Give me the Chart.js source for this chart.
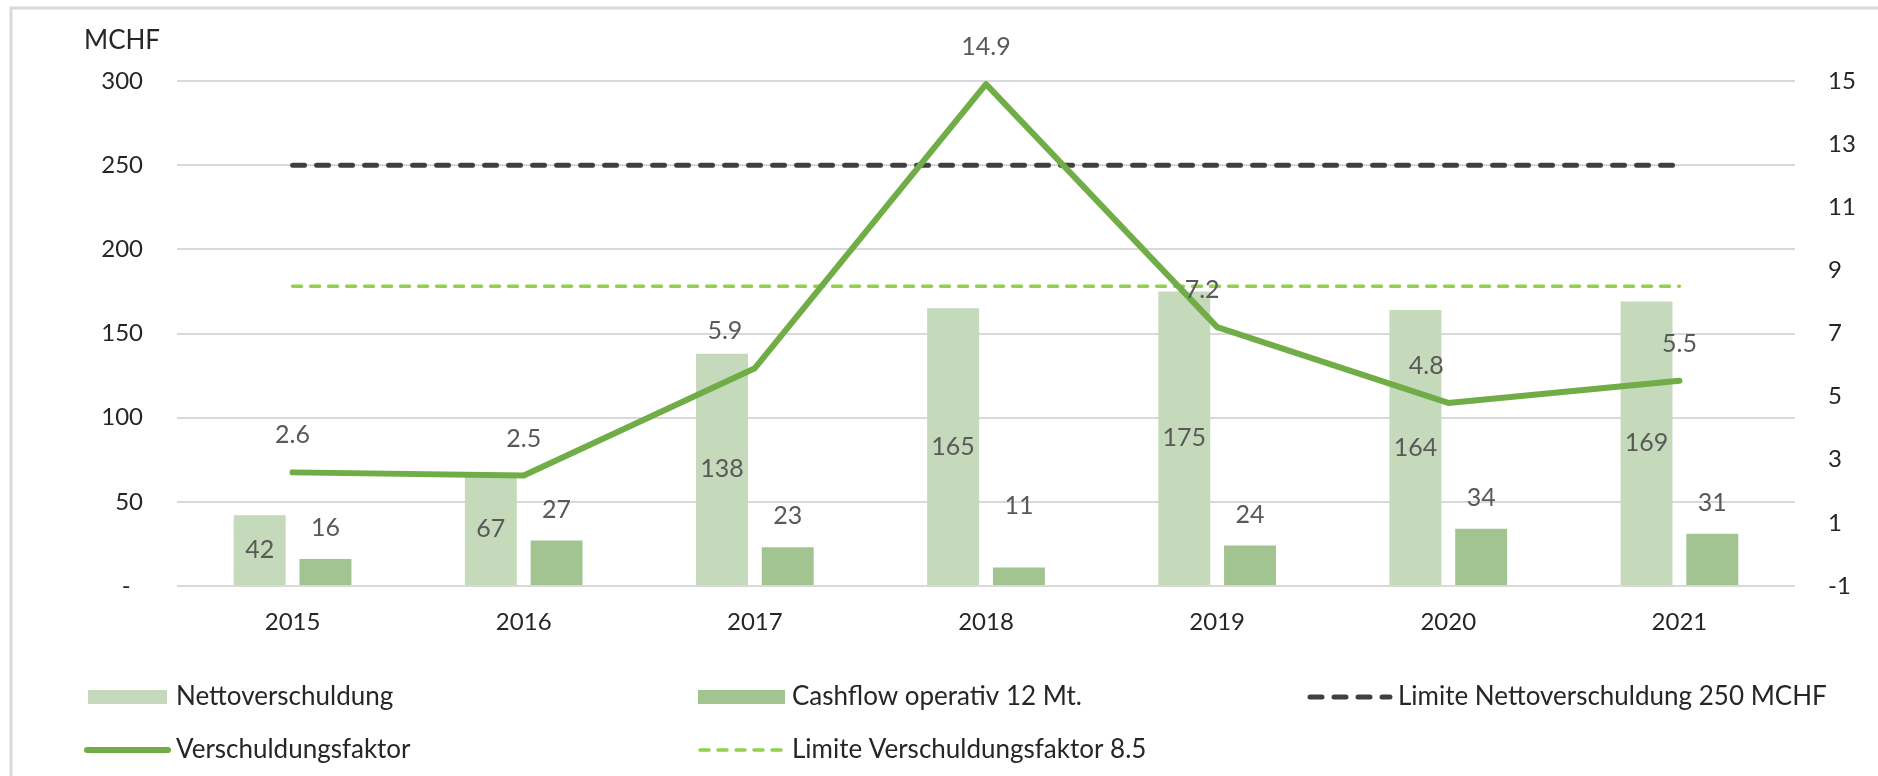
<!DOCTYPE html>
<html>
<head>
<meta charset="utf-8">
<script src="https://cdn.jsdelivr.net/npm/chart.js@4.4.0/dist/chart.umd.min.js"></script>
<style>
  html, body { margin: 0; padding: 0; background: #ffffff; overflow: hidden; }
  #wrap { position: relative; width: 1878px; height: 776px; }
  canvas { display: block; }
</style>
</head>
<body>
<div id="wrap"><canvas id="c" width="1878" height="776"></canvas></div>
<script>
// ---------- data ----------
const years = ['2015', '2016', '2017', '2018', '2019', '2020', '2021'];
const nettoverschuldung = [42, 67, 138, 165, 175, 164, 169];
const cashflowOperativ = [16, 27, 23, 11, 24, 34, 31];
const verschuldungsfaktor = [2.6, 2.5, 5.9, 14.9, 7.2, 4.8, 5.5];
const limiteNettoverschuldung = [250, 250, 250, 250, 250, 250, 250];
const limiteVerschuldungsfaktor = [8.5, 8.5, 8.5, 8.5, 8.5, 8.5, 8.5];
const leftAxisTicks = [0, 50, 100, 150, 200, 250, 300];
const rightAxisTicks = [-1, 1, 3, 5, 7, 9, 11, 13, 15];
const unitLabel = 'MCHF';
const seriesNames = ['Nettoverschuldung', 'Cashflow operativ 12 Mt.', 'Limite Nettoverschuldung 250 MCHF',
                     'Verschuldungsfaktor', 'Limite Verschuldungsfaktor 8.5'];

// ---------- styles ----------
const FONT = 'Lato, "Open Sans", sans-serif';
const FS = 24;
const FS_LABEL = 25;
const FS_LEGEND = 26;
const TEXT = '#262626';
const LABEL = '#595959';
const C_NETTO = '#c5d9bb';
const C_CASH = '#a2c490';
const C_LINE = '#70ad47';
const C_LIM1 = '#404040';
const C_LIM2 = '#92d050';

const frame = {
  id: 'frame',
  beforeDraw(chart) {
    const ctx = chart.ctx;
    ctx.save();
    ctx.fillStyle = '#ffffff';
    ctx.fillRect(0, 0, chart.width, chart.height);
    ctx.strokeStyle = '#d9d9d9';
    ctx.lineWidth = 3;
    ctx.beginPath();
    ctx.moveTo(11, chart.height);
    ctx.lineTo(11, 8);
    ctx.lineTo(chart.width, 8);
    ctx.stroke();
    ctx.restore();
  },
  afterDraw(chart) {
    const ctx = chart.ctx;
    ctx.save();
    ctx.font = FS_LEGEND + 'px ' + FONT;
    ctx.fillStyle = TEXT;
    ctx.textAlign = 'left';
    ctx.textBaseline = 'alphabetic';
    ctx.fillText(unitLabel, 84, 49);
    ctx.restore();
  }
};

const valueLabels = {
  id: 'valueLabels',
  afterDatasetsDraw(chart) {
    const ctx = chart.ctx;
    chart.data.datasets.forEach((ds, di) => {
      const cfg = ds.valueLabel;
      if (!cfg) return;
      const meta = chart.getDatasetMeta(di);
      ctx.save();
      ctx.font = FS_LABEL + 'px ' + FONT;
      ctx.fillStyle = LABEL;
      ctx.textAlign = 'center';
      ctx.textBaseline = 'middle';
      meta.data.forEach((el, i) => {
        const v = ds.data[i];
        let y;
        if (cfg.pos === 'center') y = (el.y + el.base) / 2;
        else y = el.y - (cfg.offset ? cfg.offset(i) : 0);
        const x = el.x + (cfg.dx ? cfg.dx(i) : 0);
        ctx.fillText(cfg.format(v), x, y);
      });
      ctx.restore();
    });
  }
};

// legend layout (positions are style only)
const legendLayout = [
  { ds: 0, kind: 'box',  x0: 88,   x1: 167, y: 697, tx: 176 },
  { ds: 1, kind: 'box',  x0: 698,  x1: 785, y: 697, tx: 792 },
  { ds: 2, kind: 'line', x0: 1310, x1: 1390, y: 697, tx: 1398 },
  { ds: 3, kind: 'line', x0: 87,   x1: 168, y: 750, tx: 176 },
  { ds: 4, kind: 'line', x0: 700,  x1: 785, y: 750, tx: 792 }
];

const customLegend = {
  id: 'customLegend',
  afterDraw(chart) {
    const ctx = chart.ctx;
    ctx.save();
    legendLayout.forEach(item => {
      const ds = chart.data.datasets[item.ds];
      if (item.kind === 'box') {
        ctx.fillStyle = ds.backgroundColor;
        ctx.fillRect(item.x0, item.y - 7, item.x1 - item.x0, 14);
      } else {
        ctx.strokeStyle = ds.borderColor;
        ctx.lineWidth = ds.borderWidth;
        ctx.lineCap = ds.borderCapStyle || 'butt';
        ctx.setLineDash(ds.borderDash || []);
        ctx.beginPath();
        ctx.moveTo(item.x0, item.y);
        ctx.lineTo(item.x1, item.y);
        ctx.stroke();
        ctx.setLineDash([]);
      }
      ctx.font = FS_LEGEND + 'px ' + FONT;
      ctx.fillStyle = TEXT;
      ctx.textAlign = 'left';
      ctx.textBaseline = 'alphabetic';
      ctx.fillText(ds.label, item.tx, item.y + 8);
    });
    ctx.restore();
  }
};

function build() {
  const ctx = document.getElementById('c').getContext('2d');
  new Chart(ctx, {
    data: {
      labels: years,
      datasets: [
        {
          type: 'bar', label: seriesNames[0], data: nettoverschuldung,
          backgroundColor: C_NETTO, yAxisID: 'y', order: 3,
          categoryPercentage: 0.569, barPercentage: 0.79,
          valueLabel: { pos: 'center', format: v => String(v) }
        },
        {
          type: 'bar', label: seriesNames[1], data: cashflowOperativ,
          backgroundColor: C_CASH, yAxisID: 'y', order: 3,
          categoryPercentage: 0.569, barPercentage: 0.79,
          valueLabel: { pos: 'above', offset: i => (i === 3 ? 62 : 31), format: v => String(v) }
        },
        {
          type: 'line', label: seriesNames[2], data: limiteNettoverschuldung,
          borderColor: C_LIM1, backgroundColor: C_LIM1, borderWidth: 5,
          borderDash: [12, 12], borderCapStyle: 'round',
          pointRadius: 0, yAxisID: 'y', order: 2, fill: false
        },
        {
          type: 'line', label: seriesNames[3], data: verschuldungsfaktor,
          borderColor: C_LINE, backgroundColor: C_LINE, borderWidth: 6,
          borderCapStyle: 'round', borderJoinStyle: 'round',
          pointRadius: 0, yAxisID: 'y1', order: 1, fill: false, tension: 0,
          valueLabel: { pos: 'above', offset: () => 37,
                        dx: i => ([0, 0, -30, 0, -15, -22, 0][i]),
                        format: v => v.toFixed(1) }
        },
        {
          type: 'line', label: seriesNames[4], data: limiteVerschuldungsfaktor,
          borderColor: C_LIM2, backgroundColor: C_LIM2, borderWidth: 3.5,
          borderDash: [9, 9], borderCapStyle: 'round',
          pointRadius: 0, yAxisID: 'y1', order: 2, fill: false
        }
      ]
    },
    options: {
      responsive: false,
      animation: false,
      events: [],
      layout: { padding: { left: 0, right: 0, top: 81, bottom: 130 } },
      plugins: { legend: { display: false }, tooltip: { enabled: false }, title: { display: false } },
      scales: {
        x: {
          grid: { display: false, drawTicks: false },
          border: { display: false },
          ticks: { font: { family: FONT, size: FS }, color: TEXT, padding: 22, maxRotation: 0 },
          afterFit(s) { s.height = 60; }
        },
        y: {
          position: 'left',
          min: leftAxisTicks[0], max: leftAxisTicks[leftAxisTicks.length - 1],
          afterBuildTicks(s) { s.ticks = leftAxisTicks.map(v => ({ value: v })); },
          ticks: {
            font: { family: FONT, size: FS }, color: TEXT, padding: 34,
            callback: v => (v === 0 ? '-  ' : String(v))
          },
          grid: { color: '#d9d9d9', lineWidth: 2, drawTicks: false },
          border: { display: false },
          afterFit(s) { s.width = 177; }
        },
        y1: {
          position: 'right',
          min: rightAxisTicks[0], max: rightAxisTicks[rightAxisTicks.length - 1],
          afterBuildTicks(s) { s.ticks = rightAxisTicks.map(v => ({ value: v })); },
          ticks: { font: { family: FONT, size: FS }, color: TEXT, padding: 33 },
          grid: { display: false, drawTicks: false },
          border: { display: false },
          afterFit(s) { s.width = 83; }
        }
      }
    },
    plugins: [frame, valueLabels, customLegend]
  });
}

if (document.fonts && document.fonts.load) {
  Promise.all([document.fonts.load(FS + 'px Lato'), document.fonts.load(FS_LEGEND + 'px Lato')]).then(build, build);
} else {
  build();
}
</script>
</body>
</html>
